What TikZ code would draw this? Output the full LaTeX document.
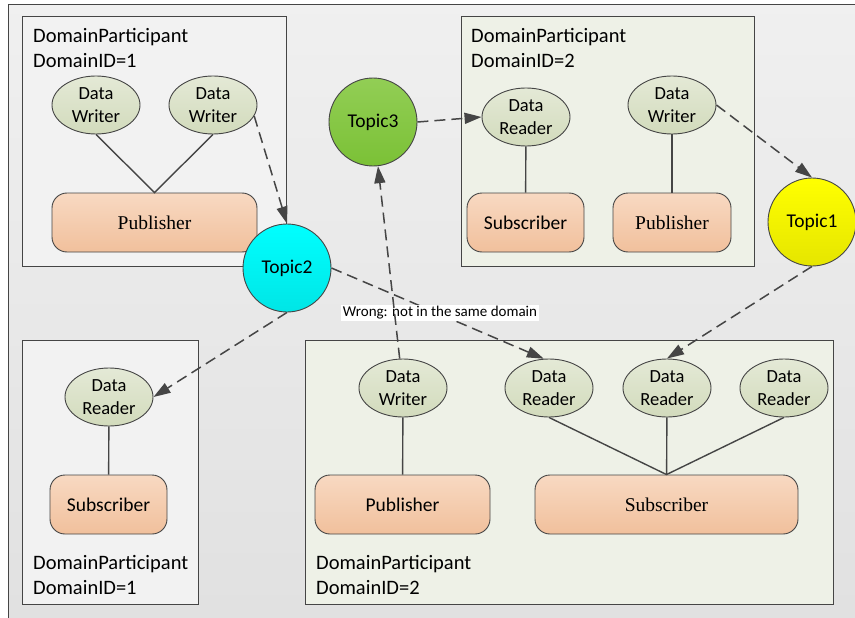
\documentclass[tikz,border=0pt]{standalone}
\usepackage{fontspec}
\setmainfont{Carlito}
\newfontfamily\serifrm{Liberation Serif}
\usetikzlibrary{positioning,arrows.meta,shapes.geometric}
\definecolor{ddsline}{HTML}{454545}
\definecolor{ddsgrey}{HTML}{F2F2F2}
\definecolor{ddsgreen}{HTML}{EEF1E7}
\definecolor{entitytop}{HTML}{E4E9D6}
\definecolor{entitybot}{HTML}{D2DBBC}
\definecolor{partytop}{HTML}{F8D9C2}
\definecolor{partybot}{HTML}{F1C09C}
\definecolor{greentop}{HTML}{92CE55}
\definecolor{greenbot}{HTML}{7BC136}
\tikzset{
    frame/.style={draw=ddsline,line width=1pt,top color=white!94!black,bottom color=white!88!black},
    dp/.style={draw=ddsline,line width=1pt,inner sep=0pt},
    dpone/.style={dp,fill=ddsgrey},
    dptwo/.style={dp,fill=ddsgreen},
    entity/.style={ellipse,draw=ddsline,line width=0.9pt,top color=entitytop,bottom color=entitybot,
        minimum width=88pt,minimum height=58pt,inner sep=0pt,align=center,
        font=\fontsize{18.5}{23.5}\selectfont},
    party/.style={rounded corners=15pt,draw=ddsline,line width=0.9pt,top color=partytop,bottom color=partybot,
        minimum height=59pt,inner sep=0pt,font=\fontsize{19.5}{23}\selectfont},
    topic/.style={circle,draw=ddsline,line width=0.9pt,minimum size=88pt,inner sep=0pt,
        font=\fontsize{19.5}{23}\selectfont},
    caption/.style={anchor=north west,align=left,inner sep=0pt,font=\fontsize{20.5}{25.5}\selectfont},
    link/.style={draw=ddsline,line width=1.4pt},
    flow/.style={link,line width=1.5pt,dash pattern=on 11pt off 6pt,-{Triangle[length=17pt,width=11pt]}},
    note/.style={fill=white,inner sep=1.5pt,font=\fontsize{15}{18}\selectfont},
}
\begin{document}
\begin{tikzpicture}[x=1pt,y=-1pt]
    \useasboundingbox (0,0) rectangle (855,618);
    \clip (0,0) rectangle (855,618);
    \fill[white] (0,0) rectangle (855,618);
    \draw[frame] (8,5) rectangle (880,640);

    % domain participants
    \node[dpone,minimum width=264pt,minimum height=249pt] (pa) at (154,141.5) {};
    \node[dptwo,minimum width=293pt,minimum height=249pt] (pb) at (607.5,141.5) {};
    \node[dpone,minimum width=176pt,minimum height=264pt] (pc) at (110,472) {};
    \node[dptwo,minimum width=528pt,minimum height=264pt] (pd) at (569,472) {};

    \node[caption] (capa) at (33,28) {DomainParticipant\\DomainID=1};
    \node[caption] (capb) at (471,28) {DomainParticipant\\DomainID=2};
    \node[caption] (capc) at (33,555) {DomainParticipant\\DomainID=1};
    \node[caption] (capd) at (316,555) {DomainParticipant\\DomainID=2};

    % readers and writers
    \node[entity] (wa1) at (96,105) {Data\\Writer};
    \node[entity] (wa2) at (213,105) {Data\\Writer};
    \node[entity] (rb) at (526,117) {Data\\Reader};
    \node[entity] (wb) at (672,105) {Data\\Writer};
    \node[entity] (rc) at (109,397) {Data\\Reader};
    \node[entity] (wd) at (403,388) {Data\\Writer};
    \node[entity] (rd1) at (549,388) {Data\\Reader};
    \node[entity] (rd2) at (667,388) {Data\\Reader};
    \node[entity] (rd3) at (784,388) {Data\\Reader};

    % publishers and subscribers
    \node[party,minimum width=205pt] (puba) at (154.5,222.5) {\serifrm Publisher};
    \node[party,minimum width=117pt] (subb) at (525.5,222.5) {Subscriber};
    \node[party,minimum width=118pt] (pubb) at (672,222.5) {\serifrm Publisher};
    \node[party,minimum width=117pt] (subc) at (108.5,504.5) {Subscriber};
    \node[party,minimum width=175pt] (pubd) at (402.5,504.5) {Publisher};
    \node[party,minimum width=263pt] (subd) at (666.5,504.5) {\serifrm Subscriber};

    \draw[link] (wa1.south) -- (puba.north) -- (wa2.south);
    \draw[link] (rb) -- (subb);
    \draw[link] (wb) -- (pubb);
    \draw[link] (rc) -- (subc);
    \draw[link] (wd) -- (pubd);
    \draw[link] (rd1.south) -- (subd.north) -- (rd3.south);
    \draw[link] (rd2) -- (subd);

    % topics
    \node[topic,top color=greentop,bottom color=greenbot] (t3) at (373,122) {Topic3};
    \node[topic,top color=cyan,bottom color=cyan!90!black] (t2) at (287,268) {Topic2};
    \node[topic,top color=yellow,bottom color=yellow!90!black] (t1) at (812,222) {Topic1};

    \draw[flow] (wa2.-15) -- (t2.north);
    \draw[flow] (t3.east) -- (rb.west);
    \draw[flow] (wb.east) -- (t1.north);
    \draw[flow] (t1.south) -- (rd2.north);
    \draw[flow] (t2.south) -- (rc.east);
    \draw[flow] (t2.east) -- (rd1.100);
    \node[note] (wrong) at (440,313) {Wrong: not in the same domain};
    \draw[flow] (wd) -- (t3);
\end{tikzpicture}
\end{document}
